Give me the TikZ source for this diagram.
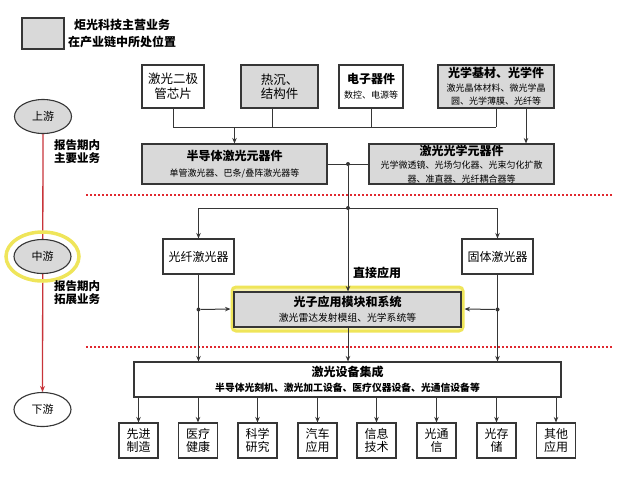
\documentclass[tikz,border=0pt]{standalone}
\usepackage{fontspec}
\setmainfont{Noto Sans CJK SC}
\usetikzlibrary{arrows.meta,shapes.geometric,backgrounds}
\definecolor{boxgray}{HTML}{D9D9D9}
\definecolor{edge}{HTML}{363636}
\definecolor{ring}{HTML}{EFE55A}
\definecolor{ringin}{HTML}{F8F3B0}
\definecolor{redline}{HTML}{C8343A}
\definecolor{reddot}{HTML}{E0282F}
\newcommand\subf{\fontsize{9}{11}\selectfont}
\newcommand\subg{\fontsize{9.8}{11}\selectfont}
\begin{document}
\begin{tikzpicture}[x=1pt,y=-1pt,
  box/.style={draw=edge,line width=1.1pt,inner sep=0pt,align=center,font=\fontsize{12}{15}\selectfont},
  graybox/.style={box,fill=boxgray},
  whitebox/.style={box,fill=white},
  appbox/.style={whitebox,minimum width=39pt,minimum height=35pt,font=\fontsize{12}{13.5}\selectfont},
  conn/.style={draw=edge,line width=1pt},
  arr/.style={conn,-{Stealth[length=5.5pt,width=4.5pt]}},
  dotm/.style={circle,fill=edge,inner sep=0pt,minimum size=4pt},
  stage/.style={ellipse,draw=edge,line width=1.1pt,minimum width=57pt,minimum height=34pt,inner sep=0pt,font=\fontsize{11}{13}\selectfont},
  reddash/.style={draw=reddot,line width=2pt,dash pattern=on 2pt off 2pt},
  note/.style={font=\bfseries\fontsize{11.5}{13}\selectfont,align=left,inner sep=0pt,anchor=west}]
\useasboundingbox (0,0) rectangle (639,480);

% legend
\node[graybox,minimum width=42pt,minimum height=31pt] (legend) at (43,33.5) {};
\node[font=\bfseries\fontsize{12}{17}\selectfont,align=center,inner sep=0pt] (legtxt) at (122,33.5) {炬光科技主营业务\\在产业链中所处位置};

% stages
\node[stage,fill=boxgray] (up) at (43,116.5) {上游};
\node[draw=ring,line width=3.5pt,ellipse,minimum width=73pt,minimum height=49pt] (midring) at (42.5,256.5) {};
\node[stage,fill=boxgray] (mid) at (42.5,256.5) {中游};
\node[stage,fill=white] (down) at (42.5,409.5) {下游};
\node[note] (rep1) at (54,151.5) {\fontsize{11.5}{16.5}\selectfont 报告期内\\主要业务};
\node[note] (rep2) at (54,292.5) {报告期内\\拓展业务};
\begin{pgfonlayer}{background}
\draw[redline,line width=1.3pt,-{Stealth[length=6pt,width=5pt]}] (up.south) -- (down.north);
\end{pgfonlayer}

% red dotted separators
\coordinate (s1a) at (86,195); \coordinate (s1b) at (613,195);
\coordinate (s2a) at (86,347); \coordinate (s2b) at (613,347);
\draw[reddash] (s1a) -- (s1b);
\draw[reddash] (s2a) -- (s2b);

% upstream boxes
\node[whitebox,minimum width=62pt,minimum height=43pt,font=\fontsize{12.5}{14.5}\selectfont] (chip) at (173,86.5) {激光二极\\管芯片};
\node[graybox,minimum width=77pt,minimum height=43pt,font=\fontsize{12.5}{14.5}\selectfont] (heat) at (279.5,86.5) {热沉、\\结构件};
\node[whitebox,minimum width=64pt,minimum height=43pt] (elec) at (371,86.5) {{\bfseries 电子器件}\\{\subf 数控、电源等}};
\node[graybox,minimum width=116pt,minimum height=43pt,font=\fontsize{12}{13.5}\selectfont] (optmat) at (496,86.5) {{\bfseries 光学基材、光学件}\\{\subf 激光晶体材料、微光学晶}\\{\subf 圆、光学薄膜、光纤等}};
\node[graybox,minimum width=185pt,minimum height=40pt,font=\fontsize{12}{16}\selectfont] (semi) at (234.5,164) {{\bfseries 半导体激光元器件}\\{\subf 单管激光器、巴条/叠阵激光器等}};
\node[graybox,minimum width=185pt,minimum height=40pt,font=\fontsize{12}{13.5}\selectfont] (optcomp) at (461.5,164) {{\bfseries 激光光学元器件}\\{\subf 光学微透镜、光场匀化器、光束匀化扩散}\\{\subf 器、准直器、光纤耦合器等}};

\coordinate (topbus) at (496,127);
\draw[conn] (chip.south) |- (topbus);
\draw[conn] ([xshift=-7.5pt]heat.south) -- ([xshift=-7.5pt]heat.south |- topbus);
\draw[conn] (elec.south) -- (elec.south |- topbus);
\draw[conn] (optmat.south) -- (topbus);
\draw[arr] (semi.north |- topbus) -- (semi.north);
\draw[arr] ([xshift=30pt]optmat.south) -- ([xshift=30pt]optmat.south |- optcomp.north);

% midstream
\node[whitebox,minimum width=71pt,minimum height=35pt] (fiber) at (198.5,256.5) {光纤激光器};
\node[whitebox,minimum width=71pt,minimum height=35pt] (solid) at (497.5,256.5) {固体激光器};
\node[draw=ring,fill=ringin,line width=3pt,rounded corners=4pt,minimum width=231pt,minimum height=44pt,inner sep=0pt] (pring) at (347.5,309) {};
\node[graybox,minimum width=227pt,minimum height=35pt] (photon) at (347.5,309.5) {{\bfseries 光子应用模块和系统}\\{\subg 激光雷达发射模组、光学系统等}};
\node[font=\bfseries\fontsize{12}{14}\selectfont,inner sep=0pt,anchor=west] (direct) at (353,273) {直接应用};

\node[dotm] (d1) at (348,164) {};
\node[dotm] (d2) at (348,208) {};
\node[dotm] (d3) at (198.5,309.5) {};
\node[dotm] (d4) at (497.5,309.5) {};

\draw[conn] (semi.east) -- (optcomp.west);
\draw[arr] (d1) -- (d1 |- photon.north);
\draw[conn] (fiber.north |- d2) -- (solid.north |- d2);
\draw[arr] (fiber.north |- d2) -- (fiber.north);
\draw[arr] (solid.north |- d2) -- (solid.north);
\draw[arr] (d3) -- (pring.west);
\draw[arr] (d4) -- (pring.east);

% downstream
\node[whitebox,minimum width=427pt,minimum height=35pt,font=\bfseries\fontsize{12}{15}\selectfont] (equip) at (347.5,379.5) {激光设备集成\\{\subg 半导体光刻机、激光加工设备、医疗仪器设备、光通信设备等}};
\draw[arr] (fiber.south) -- (fiber.south |- equip.north);
\draw[arr] (solid.south) -- (solid.south |- equip.north);
\draw[arr] (d1 |- photon.south) -- (d1 |- equip.north);

\node[appbox] (a1) at (138.5,440.5) {先进\\制造};
\node[appbox] (a2) at (198,440.5) {医疗\\健康};
\node[appbox] (a3) at (257.5,440.5) {科学\\研究};
\node[appbox] (a4) at (317.5,440.5) {汽车\\应用};
\node[appbox] (a5) at (376.5,440.5) {信息\\技术};
\node[appbox] (a6) at (436.5,440.5) {光通\\信};
\node[appbox] (a7) at (496.5,440.5) {光存\\储};
\node[appbox] (a8) at (556,440.5) {其他\\应用};
\foreach \i in {1,...,8} {
  \draw[arr] (equip.south -| a\i.north) -- (a\i.north);
}
\end{tikzpicture}
\end{document}
